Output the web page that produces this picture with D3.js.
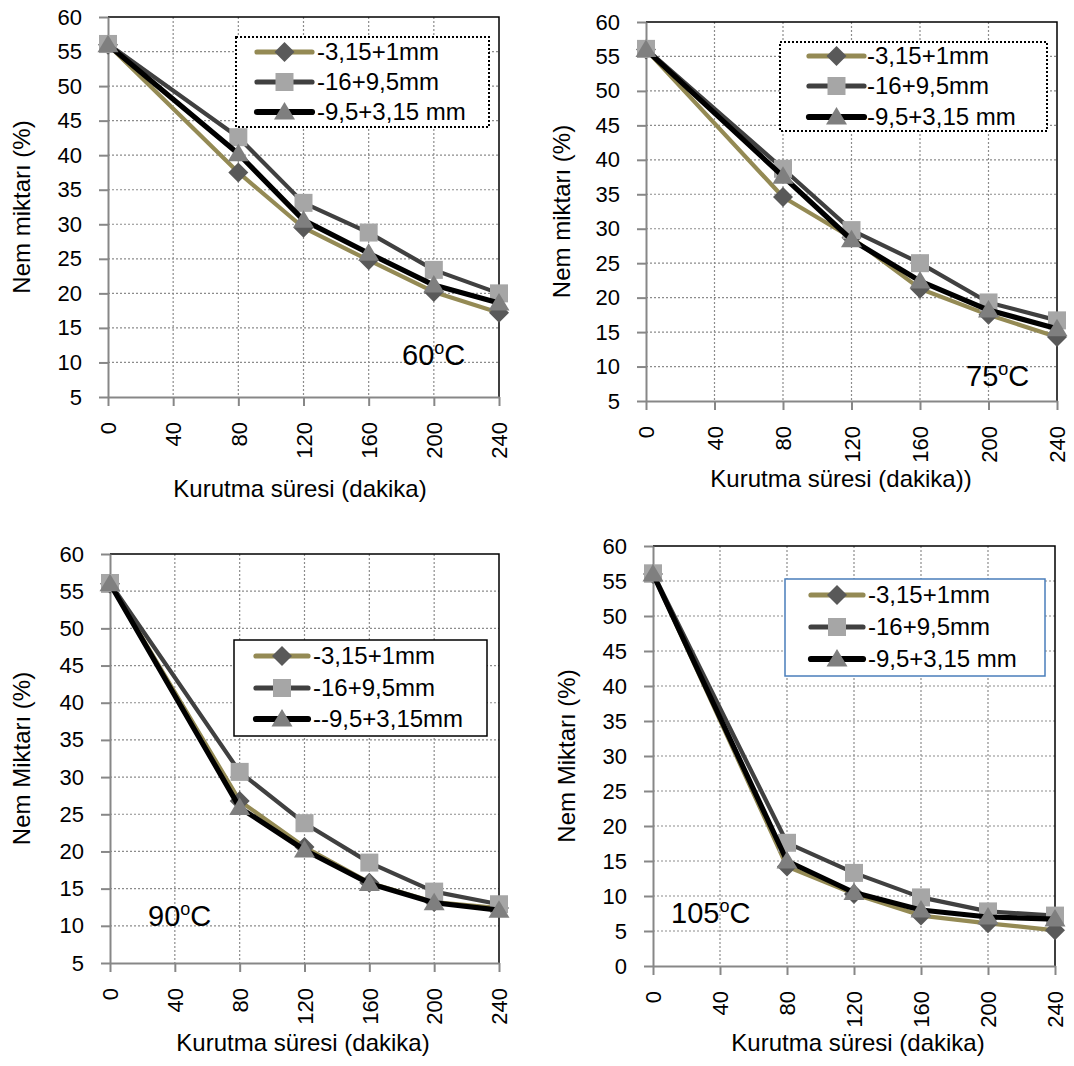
<!DOCTYPE html>
<html>
<head>
<meta charset="utf-8">
<script src="https://cdn.jsdelivr.net/npm/d3@7"></script>
<style>
  body { margin: 0; background: #fff; }
  svg { display: block; }
  text { font-family: "Liberation Sans", Arial, sans-serif; fill: #000; }
</style>
</head>
<body>
<svg id="chart" width="1074" height="1066"></svg>
<script>
// Drying time categories (minutes) and the times actually sampled
const timeLabels = ["0", "40", "80", "120", "160", "200", "240"];
const sampleTimes = [0, 80, 120, 160, 200, 240];

// Particle size fractions
const sizeLabels = ["-3,15+1mm", "-16+9,5mm", "-9,5+3,15 mm"];
const sizeLabels90 = ["-3,15+1mm", "-16+9,5mm", "--9,5+3,15mm"];

// Y tick values
const yTicksFrom5 = [5, 10, 15, 20, 25, 30, 35, 40, 45, 50, 55, 60];
const yTicksFrom0 = [0, 5, 10, 15, 20, 25, 30, 35, 40, 45, 50, 55, 60];

// Moisture content (%) at 60 °C
const fine60   = [56.0, 37.5, 29.5, 24.8, 20.2, 17.2];
const coarse60 = [56.1, 42.6, 33.1, 28.8, 23.4, 20.0];
const mid60    = [56.0, 40.2, 30.6, 25.8, 21.2, 18.6];

// Moisture content (%) at 75 °C
const fine75   = [56.0, 34.6, 28.7, 21.3, 17.5, 14.3];
const coarse75 = [56.1, 38.7, 29.8, 25.0, 19.3, 16.7];
const mid75    = [56.0, 37.6, 28.4, 22.4, 18.2, 15.5];

// Moisture content (%) at 90 °C
const fine90   = [56.0, 26.8, 20.6, 15.8, 13.2, 12.4];
const coarse90 = [56.1, 30.7, 23.8, 18.5, 14.6, 12.9];
const mid90    = [56.0, 25.9, 20.2, 15.7, 13.1, 12.1];

// Moisture content (%) at 105 °C
const fine105   = [56.0, 14.2, 10.3, 7.2, 6.1, 5.1];
const coarse105 = [56.1, 17.6, 13.3, 9.8, 7.8, 7.2];
const mid105    = [56.0, 15.0, 10.5, 8.0, 7.0, 6.7];

// Series appearance
const seriesStyle = [
  { line: "#948A54", width: 4.2, marker: "diamond",  fill: "#595959" },
  { line: "#404040", width: 4.2, marker: "square",   fill: "#A6A6A6" },
  { line: "#000000", width: 5.2, marker: "triangle", fill: "#7F7F7F" }
];

const markerPath = {
  diamond:  "M0,-10L10,0L0,10L-10,0Z",
  square:   "M-9,-9H9V9H-9Z",
  triangle: "M0,-10L10.5,7.5L-10.5,7.5Z"
};

// Panel layout
const panels = [
  {
    temp: "60", series: [fine60, coarse60, mid60], names: sizeLabels, ticks: yTicksFrom5,
    left: 108, right: 499, top: 17, bottom: 397,
    yTitle: "Nem miktarı (%)", yTitleX: 22,
    xTitle: "Kurutma süresi (dakika)", xTitleX: 300, xTitleY: 497,
    legend: { x0: 236, x1: 489, y0: 37, y1: 127, rows: [52, 82, 112], s0: 257, s1: 312, tx: 317,
              stroke: "#000", dash: "2,2", sw: 2 },
    note: { x: 402, y: 365 }
  },
  {
    temp: "75", series: [fine75, coarse75, mid75], names: sizeLabels, ticks: yTicksFrom5,
    left: 646, right: 1057, top: 22, bottom: 401,
    yTitle: "Nem miktarı (%)", yTitleX: 562,
    xTitle: "Kurutma süresi (dakika))", xTitleX: 841, xTitleY: 487,
    legend: { x0: 780, x1: 1047, y0: 42, y1: 131, rows: [56, 86, 117], s0: 809, s1: 864, tx: 867,
              stroke: "#000", dash: "2,2", sw: 2 },
    note: { x: 966, y: 386 }
  },
  {
    temp: "90", series: [fine90, coarse90, mid90], names: sizeLabels90, ticks: yTicksFrom5,
    left: 110, right: 499, top: 554, bottom: 963,
    yTitle: "Nem Miktarı (%)", yTitleX: 22,
    xTitle: "Kurutma süresi (dakika)", xTitleX: 303, xTitleY: 1051,
    legend: { x0: 234, x1: 487, y0: 640, y1: 736, rows: [656, 688, 719], s0: 256, s1: 308, tx: 313,
              stroke: "#000", dash: null, sw: 1.5 },
    note: { x: 148, y: 926 }
  },
  {
    temp: "105", series: [fine105, coarse105, mid105], names: sizeLabels, ticks: yTicksFrom0,
    left: 653, right: 1055, top: 546, bottom: 966,
    yTitle: "Nem Miktarı (%)", yTitleX: 567,
    xTitle: "Kurutma süresi (dakika)", xTitleX: 858, xTitleY: 1051,
    legend: { x0: 785, x1: 1045, y0: 579, y1: 676, rows: [595, 627, 659], s0: 811, s1: 863, tx: 868,
              stroke: "#4A7EBB", dash: null, sw: 1.5 },
    note: { x: 671, y: 923 }
  }
];

const svg = d3.select("#chart");
const axisGray = "#878787";

function drawPanel(p) {
  const g = svg.append("g");
  const yMin = p.ticks[0];
  const x = d3.scalePoint().domain(timeLabels).range([p.left, p.right]);
  const y = d3.scaleLinear().domain([yMin, 60]).range([p.bottom, p.top]);

  // dotted grid
  g.append("g").selectAll("line")
    .data(p.ticks.filter(v => v > yMin && v < 60))
    .join("line")
    .attr("x1", p.left).attr("x2", p.right)
    .attr("y1", d => y(d)).attr("y2", d => y(d))
    .attr("stroke", "#8c8c8c").attr("stroke-width", 1.2).attr("stroke-dasharray", "2,2");
  g.append("g").selectAll("line")
    .data(timeLabels.slice(1, -1))
    .join("line")
    .attr("x1", d => x(d)).attr("x2", d => x(d))
    .attr("y1", p.top).attr("y2", p.bottom)
    .attr("stroke", "#8c8c8c").attr("stroke-width", 1.2).attr("stroke-dasharray", "2,2");

  // plot frame (top and right)
  g.append("path")
    .attr("d", `M${p.left},${p.top}H${p.right}V${p.bottom}`)
    .attr("fill", "none").attr("stroke", "#000").attr("stroke-width", 1.5);

  // y axis
  const ya = g.append("g").attr("transform", `translate(${p.left},0)`)
    .call(d3.axisLeft(y).tickValues(p.ticks).tickSize(9).tickSizeOuter(0).tickPadding(17).tickFormat(d3.format("d")));
  ya.selectAll("path, line").attr("stroke", axisGray).attr("stroke-width", 2);
  ya.selectAll("text").attr("font-size", 22).attr("fill", "#000")
    .style("font-family", "'Liberation Sans', Arial, sans-serif");

  // x axis with rotated labels
  const xa = g.append("g").attr("transform", `translate(0,${p.bottom})`)
    .call(d3.axisBottom(x).tickSize(9).tickSizeOuter(0));
  xa.selectAll("path, line").attr("stroke", axisGray).attr("stroke-width", 2);
  xa.selectAll("text")
    .attr("font-size", 22).attr("fill", "#000")
    .style("font-family", "'Liberation Sans', Arial, sans-serif")
    .attr("transform", "rotate(-90)")
    .attr("x", -25).attr("y", 0).attr("dy", "0.35em")
    .style("text-anchor", "end");

  // axis titles
  g.append("text")
    .attr("transform", `translate(${p.yTitleX},${(p.top + p.bottom) / 2}) rotate(-90)`)
    .attr("dy", "0.35em").attr("text-anchor", "middle").attr("font-size", 24)
    .text(p.yTitle);
  g.append("text")
    .attr("x", p.xTitleX).attr("y", p.xTitleY)
    .attr("text-anchor", "middle").attr("font-size", 24)
    .text(p.xTitle);

  // series
  const line = d3.line().x(d => x(String(d.t))).y(d => y(d.v));
  p.series.forEach((vals, i) => {
    const st = seriesStyle[i];
    const pts = sampleTimes.map((t, k) => ({ t, v: vals[k] }));
    g.append("path").datum(pts)
      .attr("d", line).attr("fill", "none")
      .attr("stroke", st.line).attr("stroke-width", st.width)
      .attr("stroke-linejoin", "round").attr("stroke-linecap", "round");
    g.append("g").selectAll("path").data(pts).join("path")
      .attr("transform", d => `translate(${x(String(d.t))},${y(d.v)})`)
      .attr("d", markerPath[st.marker]).attr("fill", st.fill);
  });

  // legend
  const L = p.legend;
  g.append("rect")
    .attr("x", L.x0).attr("y", L.y0).attr("width", L.x1 - L.x0).attr("height", L.y1 - L.y0)
    .attr("fill", "#fff").attr("stroke", L.stroke).attr("stroke-width", L.sw)
    .attr("stroke-dasharray", L.dash);
  p.names.forEach((name, i) => {
    const st = seriesStyle[i];
    const ry = L.rows[i];
    g.append("line")
      .attr("x1", L.s0).attr("x2", L.s1).attr("y1", ry).attr("y2", ry)
      .attr("stroke", st.line).attr("stroke-width", st.width + 1).attr("stroke-linecap", "round");
    g.append("path")
      .attr("transform", `translate(${(L.s0 + L.s1) / 2},${ry})`)
      .attr("d", markerPath[st.marker]).attr("fill", st.fill);
    g.append("text")
      .attr("x", L.tx).attr("y", ry).attr("dy", "0.35em").attr("font-size", 24)
      .text(name);
  });

  // temperature note
  const n = g.append("text").attr("x", p.note.x).attr("y", p.note.y).attr("font-size", 29);
  n.append("tspan").text(p.temp);
  n.append("tspan").attr("font-size", 18).attr("dy", -11).text("o");
  n.append("tspan").attr("dy", 11).text("C");
}

panels.forEach(drawPanel);
</script>
</body>
</html>
